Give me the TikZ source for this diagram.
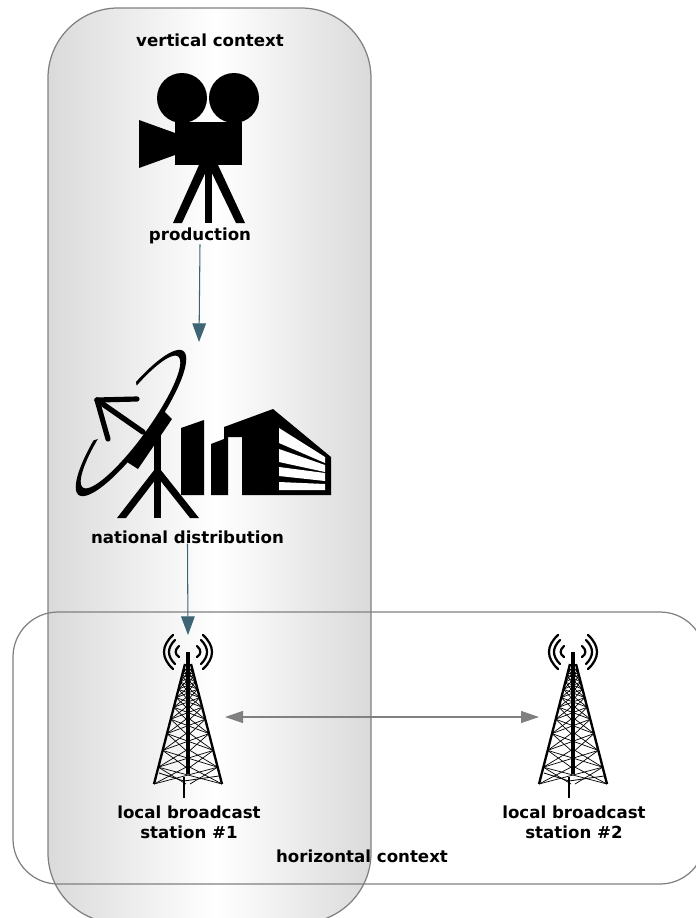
\documentclass[tikz,border=0pt]{standalone}
\usepackage{fontspec}
\setmainfont{DejaVu Sans}
\usetikzlibrary{arrows.meta,calc}

\definecolor{panelGray}{HTML}{DADADA}
\definecolor{panelEdge}{HTML}{808080}
\definecolor{flowTeal}{HTML}{3F6475}
\definecolor{linkGray}{HTML}{808080}

\pgfdeclarehorizontalshading{panelShade}{100bp}{
    color(0bp)=(panelGray);
    color(25bp)=(panelGray);
    color(51bp)=(white);
    color(75bp)=(panelGray);
    color(100bp)=(panelGray)
}

\tikzset{
    caption/.style={font=\fontsize{14.2}{17}\selectfont\bfseries, align=center, inner sep=0pt},
    flow/.style={-{Triangle[length=5.6mm,width=4.1mm]}, flowTeal, line width=0.9pt},
    link/.style={{Triangle[length=5.4mm,width=3.6mm]}-{Triangle[length=5.4mm,width=3.6mm]}, linkGray, line width=1pt},
    tower/.pic={
        % mast
        \draw[line width=2.6pt] (0,0) -- (0,122);
        \draw[line width=1.7pt] (-4,125) -- (-4,146);
        % legs
        \draw[line width=2pt] (-3,12) -- (-34,132);
        \draw[line width=2pt] (3,12) -- (34,132);
        % lattice
        \foreach \a/\b in {.04/.09,.09/.15,.15/.21,.21/.28,.28/.36,.36/.46,.46/.58,.58/.72,.72/.86,.86/1,
                           .09/.04,.15/.09,.21/.15,.28/.21,.36/.28,.46/.36,.58/.46,.72/.58,.86/.72,1/.86}{
            \draw[line width=0.6pt] ({-3-31*\a},{12+120*\a}) -- ({3+31*\b},{12+120*\b});
            \draw[line width=0.6pt] ({-3-31*\a},{12+120*\a}) -- (-2,{12+120*\b});
            \draw[line width=0.6pt] ({3+31*\a},{12+120*\a}) -- (2,{12+120*\b});
        }
        \draw[line width=0.7pt] (-29,121) -- (-4,129) -- (31,124);
        % radio waves
        \foreach \s in {1,-1}{
            \draw[line width=1.9pt, line cap=round] ({\s*9},-6) .. controls ({\s*13.5},-2) and ({\s*13.5},2) .. ({\s*9},5);
            \draw[line width=1.9pt, line cap=round] ({\s*13},-12) .. controls ({\s*21},-4) and ({\s*21},4) .. ({\s*13},12);
            \draw[line width=1.9pt, line cap=round] ({\s*15},-17) .. controls ({\s*27},-6) and ({\s*27},6) .. ({\s*15},17);
        }
    }
}

\begin{document}
\begin{tikzpicture}[
    x=0.03cm,
    y=-0.03cm,
    >=Stealth,
    line join=round
]

\clip (0,0) rectangle (696,918);

% ======================================
% context panels
% ======================================
\path[draw=panelEdge, line width=1.05pt, rounded corners=2.1cm, shading=panelShade]
    (48,8) rectangle (371,923);
\draw[panelEdge, line width=1.05pt, rounded corners=1.35cm] (13,612) rectangle (705,884);

% ======================================
% camera
% ======================================
\fill (182,98) circle (25);
\fill (234,98) circle (25);
\fill (175,122) rectangle (242,165);
\fill (139,120) -- (175,133) -- (175,155) -- (139,168) -- cycle;
\fill (199,165) -- (173,223) -- (182,223) -- (209,165) -- cycle;
\fill (205,165) -- (205,223) -- (212,223) -- (212,165) -- cycle;
\fill (208,165) -- (236,223) -- (245,223) -- (218,165) -- cycle;

% ======================================
% dish and building
% ======================================
\def\dishX{131}
\def\dishY{423}
\fill plot[smooth, domain=-66:246, samples=60]
        ({\dishX+89*cos(\x)*0.588+22*sin(\x)*0.809},{\dishY-89*cos(\x)*0.809+22*sin(\x)*0.588})
    -- plot[smooth, domain=246:-66, samples=60]
        ({\dishX+81*cos(\x)*0.588+18*sin(\x)*0.809-0.5},{\dishY-81*cos(\x)*0.809+18*sin(\x)*0.588-1})
    -- cycle;
\fill (163,410) -- (172,419) -- (138,469) -- (127,462) -- cycle;
\draw[line width=4.6pt, line cap=round] (143,432) -- (97,400);
\draw[line width=4.4pt, line cap=round] (97,400) -- (137,399);
\draw[line width=4.4pt, line cap=round] (97,400) -- (108,439);
\fill (154,435) -- (154,518) -- (161,518) -- (161,435) -- cycle;
\fill (155,469) -- (117,518) -- (126,518) -- (157.5,477) -- (190,518) -- (199,518) -- (160,469) -- cycle;

\fill (181,428) -- (204,420) -- (204,495) -- (181,495) -- cycle;
\fill (211,444) -- (224,439) -- (224,427) -- (273,409) -- (331,457) -- (331,495)
    -- (242,495) -- (242,437) -- (228,437) -- (228,495) -- (211,495) -- cycle;
\fill[white] (279,428) -- (325,457) -- (325,463) -- (279,443) -- cycle;
\fill[white] (279,449) -- (325,465) -- (325,472) -- (279,462) -- cycle;
\fill[white] (279,467) -- (325,473) -- (325,481) -- (279,476) -- cycle;
\fill[white] (279,482) -- (325,484) -- (325,490) -- (279,490) -- cycle;

% ======================================
% towers
% ======================================
\pic at (188,652) {tower};
\pic at (573,652) {tower};

% ======================================
% labels
% ======================================
\node[caption] (verticalLabel) at (210,40) {vertical context};
\node[caption] (production) at (200,236) {production};
\node[caption] (national) at (187.5,537) {national distribution};
\node[caption] (stationOne) at (189,822) {local broadcast\\station \#1};
\node[caption] (stationTwo) at (574,822) {local broadcast\\station \#2};
\node[caption] (horizontalLabel) at (362,856) {horizontal context};

% ======================================
% connectors
% ======================================
\coordinate (dishTop) at (199,342);
\coordinate (towerOneTop) at (188,635);
\coordinate (towerOneSide) at (225,717);
\coordinate (towerTwoSide) at (539,717);

\draw[flow] (production.south) -- (dishTop);
\draw[flow] (national.south) -- (towerOneTop);
\draw[link] (towerOneSide) -- (towerTwoSide);

\end{tikzpicture}
\end{document}
